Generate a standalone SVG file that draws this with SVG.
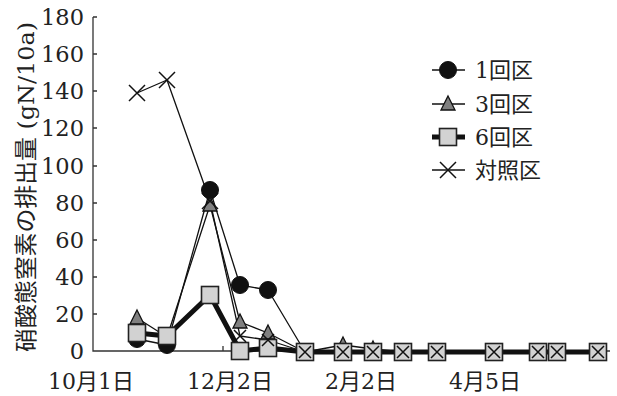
<svg xmlns="http://www.w3.org/2000/svg" xmlns:xlink="http://www.w3.org/1999/xlink" width="617" height="396" viewBox="0 0 617 396">
<style>
.num{font-family:"DejaVu Serif","Liberation Serif","Noto Sans CJK JP",serif;font-size:22.5px;fill:#222}
.jp{font-family:"DejaVu Serif","Noto Sans CJK JP",serif;font-size:22px;fill:#222}
.ax{stroke:#333;stroke-width:1.3;fill:none}
.thin{stroke:#111;stroke-width:1.3;fill:none;stroke-linejoin:round}
.thick{stroke:#111;stroke-width:5;fill:none;stroke-linejoin:round}
</style>
<defs>
<circle id="c" r="8.5" fill="#111" stroke="#111" stroke-width="1"/>
<path id="t" d="M0,-8 L7,6 L-7,6 Z" fill="#808080" stroke="#111" stroke-width="1.3"/>
<rect id="s" x="-8.5" y="-8.5" width="17" height="17" fill="#d2d2d2" stroke="#222" stroke-width="1.6"/>
<path id="x" d="M-8,-8 L8,8 M-8,8 L8,-8" stroke="#111" stroke-width="1.5" fill="none"/>
<path id="xs" d="M-6,-6 L6,6 M-6,6 L6,-6" stroke="#111" stroke-width="1.5" fill="none"/>
</defs>
<rect width="617" height="396" fill="#fff"/>
<g id="axes">
<path class="ax" d="M93,17 V351 H610 M223,351 V346"/>
<path class="ax" d="M93,17 H97 M93,54 H97 M93,91 H97 M93,128 H97 M93,166 H97 M93,203 H97 M93,240 H97 M93,277 H97 M93,314 H97"/>
<g class="num" text-anchor="end">
<text x="84" y="25">180</text>
<text x="84" y="62">160</text>
<text x="84" y="99">140</text>
<text x="84" y="136">120</text>
<text x="84" y="174">100</text>
<text x="84" y="211">80</text>
<text x="84" y="248">60</text>
<text x="84" y="285">40</text>
<text x="84" y="322">20</text>
<text x="84" y="359">0</text>
</g>
<g class="jp" text-anchor="middle">
<text x="91" y="389">10月1日</text>
<text x="230" y="389">12月2日</text>
<text x="361" y="389">2月2日</text>
<text x="485" y="389">4月5日</text>
</g>
<text class="jp" text-anchor="middle" transform="translate(26,187) rotate(-90)" style="font-size:23px" textLength="330" lengthAdjust="spacingAndGlyphs" dy="8">硝酸態窒素の排出量 (gN/10a)</text>
</g>
<g id="connectors">
<polyline class="thin" points="137,93 167,80 210,201 240,336 268,340 305,352 598,352"/>
<polyline class="thin" points="137,339 167,345 210,190 240,285 268,290 305,352 598,352"/>
<polyline class="thin" points="137,318 167,337 210,205 240,322 268,333 305,352 343,345 373,349 403,352 598,352"/>
<polyline class="thick" points="137,333 167,336 210,295 240,351 268,348 305,352 598,352"/>
</g>
<g id="series-1">
<use xlink:href="#c" x="137" y="339"/><use xlink:href="#c" x="167" y="345"/><use xlink:href="#c" x="210" y="190"/><use xlink:href="#c" x="240" y="285"/><use xlink:href="#c" x="268" y="290"/>
</g>
<g id="series-3">
<use xlink:href="#t" x="137" y="318"/><use xlink:href="#t" x="167" y="337"/><use xlink:href="#t" x="210" y="205"/><use xlink:href="#t" x="240" y="322"/><use xlink:href="#t" x="268" y="333"/><use xlink:href="#t" x="343" y="345"/><use xlink:href="#t" x="373" y="349"/>
</g>
<g id="series-6">
<use xlink:href="#s" x="137" y="333"/><use xlink:href="#s" x="167" y="336"/><use xlink:href="#s" x="210" y="295"/><use xlink:href="#s" x="240" y="351"/><use xlink:href="#s" x="268" y="348"/>
<use xlink:href="#s" x="305" y="352"/><use xlink:href="#s" x="343" y="352"/><use xlink:href="#s" x="373" y="352"/><use xlink:href="#s" x="403" y="352"/><use xlink:href="#s" x="437" y="352"/><use xlink:href="#s" x="494" y="352"/><use xlink:href="#s" x="538" y="352"/><use xlink:href="#s" x="557" y="352"/><use xlink:href="#s" x="598" y="352"/>
</g>
<g id="series-control">
<use xlink:href="#x" x="137" y="93"/><use xlink:href="#x" x="167" y="80"/><use xlink:href="#x" x="210" y="201"/><use xlink:href="#xs" x="240" y="336"/><use xlink:href="#xs" x="268" y="340"/>
<use xlink:href="#xs" x="305" y="352"/><use xlink:href="#xs" x="343" y="352"/><use xlink:href="#xs" x="373" y="352"/><use xlink:href="#xs" x="403" y="352"/><use xlink:href="#xs" x="437" y="352"/><use xlink:href="#xs" x="494" y="352"/><use xlink:href="#xs" x="538" y="352"/><use xlink:href="#xs" x="557" y="352"/><use xlink:href="#xs" x="598" y="352"/>
</g>
<g id="legend">
<g id="leg-1"><path class="thin" d="M432,70 H465"/><use xlink:href="#c" x="448" y="70"/><text class="jp" x="475" y="78">1回区</text></g>
<g id="leg-3"><path class="thin" d="M432,104 H465"/><use xlink:href="#t" x="448" y="104"/><text class="jp" x="475" y="112">3回区</text></g>
<g id="leg-6"><path class="thick" d="M432,137 H465"/><use xlink:href="#s" x="448" y="137"/><text class="jp" x="475" y="145">6回区</text></g>
<g id="leg-c"><path class="thin" d="M432,170 H465"/><use xlink:href="#x" x="448" y="170"/><text class="jp" x="475" y="178">対照区</text></g>
</g>
</svg>
